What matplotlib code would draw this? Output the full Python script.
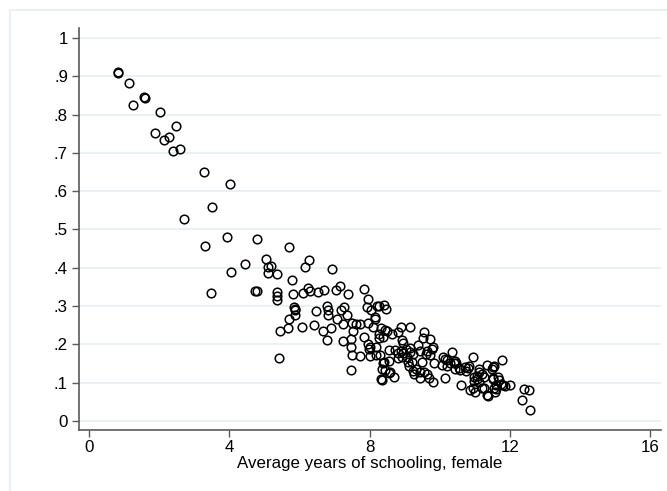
import numpy as np
import matplotlib
matplotlib.use('Agg')
import matplotlib.pyplot as plt
from matplotlib.patches import Rectangle
from matplotlib.ticker import FuncFormatter

plt.rcParams['font.family'] = ['Liberation Sans', 'DejaVu Sans']

# average years of schooling (female) vs. share value
school = [0.82, 0.84, 1.15, 1.26, 1.56, 1.61, 1.88, 2.03, 2.15, 2.28,
          2.40, 2.47, 2.58, 2.71, 3.28, 3.30, 3.48, 3.51, 3.93, 4.01,
          4.05, 4.44, 4.74, 4.78, 4.79, 5.04, 5.09, 5.11, 5.19, 5.36,
          5.36, 5.37, 5.37, 5.41, 5.43, 5.68, 5.69, 5.71, 5.79, 5.80,
          5.83, 5.87, 5.86, 5.88, 6.06, 6.11, 6.15, 6.24, 6.28, 6.29,
          6.42, 6.48, 6.53, 6.68, 6.70, 6.79, 6.82, 6.81, 6.79, 6.89,
          6.92, 7.04, 7.07, 7.16, 7.18, 7.26, 7.35, 7.37, 7.25, 7.24,
          7.49, 7.60, 7.72, 7.51, 7.48, 7.48, 7.49, 7.47, 7.72, 7.83,
          7.94, 7.96, 7.91, 8.03, 8.21, 8.26, 8.42, 8.45, 8.14, 8.16,
          8.08, 8.31, 8.43, 8.49, 8.27, 8.38, 8.56, 7.84, 7.96, 8.00,
          7.98, 8.18, 8.26, 8.00, 8.19, 8.29, 8.42, 8.34, 8.31, 8.54,
          8.64, 8.81, 8.89, 9.15, 8.93, 8.95, 8.72, 8.81, 8.88, 8.96,
          8.92, 8.81, 8.56, 8.59, 8.70, 9.03, 9.16, 9.05, 9.15, 9.23,
          9.20, 9.10, 9.12, 9.38, 9.44, 9.55, 9.51, 9.73, 9.81, 9.77,
          9.64, 9.60, 9.72, 9.83, 9.49, 9.43, 9.55, 9.64, 9.70, 9.80,
          9.26, 9.43, 9.22, 9.33, 8.39, 8.43, 8.34, 10.15, 10.09, 10.14,
          10.19, 10.34, 10.29, 10.47, 10.44, 10.58, 10.61, 10.55, 10.73, 10.81,
          10.93, 10.87, 11.00, 10.97, 11.05, 10.98, 11.11, 11.12, 11.07, 11.12,
          11.21, 11.34, 11.35, 11.36, 11.50, 11.48, 11.55, 11.78, 11.55, 11.61,
          11.58, 11.67, 11.73, 11.81, 11.86, 12.01, 12.39, 12.53, 12.34, 12.58,
          10.07, 10.19, 10.40, 10.44, 10.71, 10.84, 10.95, 11.19, 11.26, 11.26,
          11.52, 11.52, 11.61, 11.66]
share = [0.912, 0.908, 0.883, 0.825, 0.846, 0.842, 0.752, 0.807, 0.733, 0.742,
         0.705, 0.770, 0.711, 0.527, 0.649, 0.458, 0.333, 0.559, 0.481, 0.618,
         0.390, 0.409, 0.340, 0.339, 0.475, 0.422, 0.386, 0.403, 0.405, 0.336,
         0.326, 0.317, 0.383, 0.165, 0.234, 0.244, 0.266, 0.454, 0.367, 0.331,
         0.297, 0.293, 0.290, 0.277, 0.246, 0.333, 0.403, 0.346, 0.421, 0.339,
         0.250, 0.288, 0.336, 0.235, 0.341, 0.300, 0.290, 0.276, 0.211, 0.244,
         0.396, 0.342, 0.267, 0.353, 0.291, 0.298, 0.277, 0.332, 0.254, 0.209,
         0.256, 0.253, 0.253, 0.234, 0.214, 0.194, 0.173, 0.132, 0.170, 0.345,
         0.256, 0.318, 0.298, 0.290, 0.300, 0.300, 0.302, 0.292, 0.271, 0.266,
         0.245, 0.244, 0.238, 0.234, 0.226, 0.219, 0.185, 0.218, 0.200, 0.194,
         0.189, 0.192, 0.216, 0.170, 0.172, 0.171, 0.154, 0.137, 0.109, 0.126,
         0.226, 0.232, 0.245, 0.245, 0.211, 0.203, 0.185, 0.178, 0.183, 0.177,
         0.168, 0.164, 0.157, 0.127, 0.116, 0.189, 0.191, 0.168, 0.180, 0.174,
         0.154, 0.155, 0.143, 0.198, 0.184, 0.232, 0.217, 0.213, 0.192, 0.187,
         0.183, 0.175, 0.171, 0.151, 0.153, 0.128, 0.128, 0.123, 0.111, 0.103,
         0.122, 0.113, 0.131, 0.135, 0.151, 0.133, 0.107, 0.112, 0.168, 0.163,
         0.159, 0.180, 0.151, 0.151, 0.156, 0.132, 0.093, 0.138, 0.131, 0.138,
         0.166, 0.080, 0.077, 0.114, 0.109, 0.104, 0.135, 0.128, 0.118, 0.101,
         0.085, 0.146, 0.068, 0.065, 0.109, 0.136, 0.144, 0.158, 0.087, 0.084,
         0.077, 0.106, 0.097, 0.094, 0.091, 0.094, 0.084, 0.081, 0.056, 0.029,
         0.146, 0.144, 0.152, 0.135, 0.142, 0.144, 0.085, 0.124, 0.116, 0.085,
         0.141, 0.111, 0.094, 0.116]

xticks = [0, 4, 8, 12, 16]
yticks = [0, .1, .2, .3, .4, .5, .6, .7, .8, .9, 1]

W, H = 667, 491
fig = plt.figure(figsize=(W / 100, H / 100), dpi=100)
fig.patch.set_facecolor('white')

# faint outer frame of the graph region (partly cropped)
fig.patches.append(Rectangle((9.5 / W, -0.2), 1.2, 1 - 10 / H + 0.2,
                             transform=fig.transFigure, fill=False,
                             edgecolor='#e6edef', linewidth=1.2))

ax = fig.add_axes([79 / W, 1 - 430 / H, (661 - 79) / W, (430 - 28) / H])
ax.set_xlim(-0.285, 16.30)
ax.set_ylim(-0.0235, 1.026)

for y in yticks:
    ax.axhline(y, color='#e8eff1', linewidth=1.2, zorder=0)

ax.plot(school, share, linestyle='none', marker='o', markersize=6.2,
        markerfacecolor='none', markeredgecolor='black', markeredgewidth=1.1)

ax.set_xticks(xticks)
ax.set_yticks(yticks)
ax.yaxis.set_major_formatter(FuncFormatter(
    lambda v, p: '0' if abs(v) < 1e-9 else ('1' if abs(v - 1) < 1e-9 else ('%.1f' % v)[1:])))

for s in ['top', 'right']:
    ax.spines[s].set_visible(False)
for s in ['left', 'bottom']:
    ax.spines[s].set_color('#5a5a5a')
    ax.spines[s].set_linewidth(1.2)
ax.tick_params(colors='#5a5a5a', labelcolor='black', length=5, width=1,
               labelsize=12.2)
ax.tick_params(axis='x', pad=2.5)
ax.tick_params(axis='y', pad=3)

ax.set_xlabel('Average years of schooling, female', fontsize=12.2, labelpad=0.5)

fig.savefig('out.png', dpi=100, facecolor='white')
